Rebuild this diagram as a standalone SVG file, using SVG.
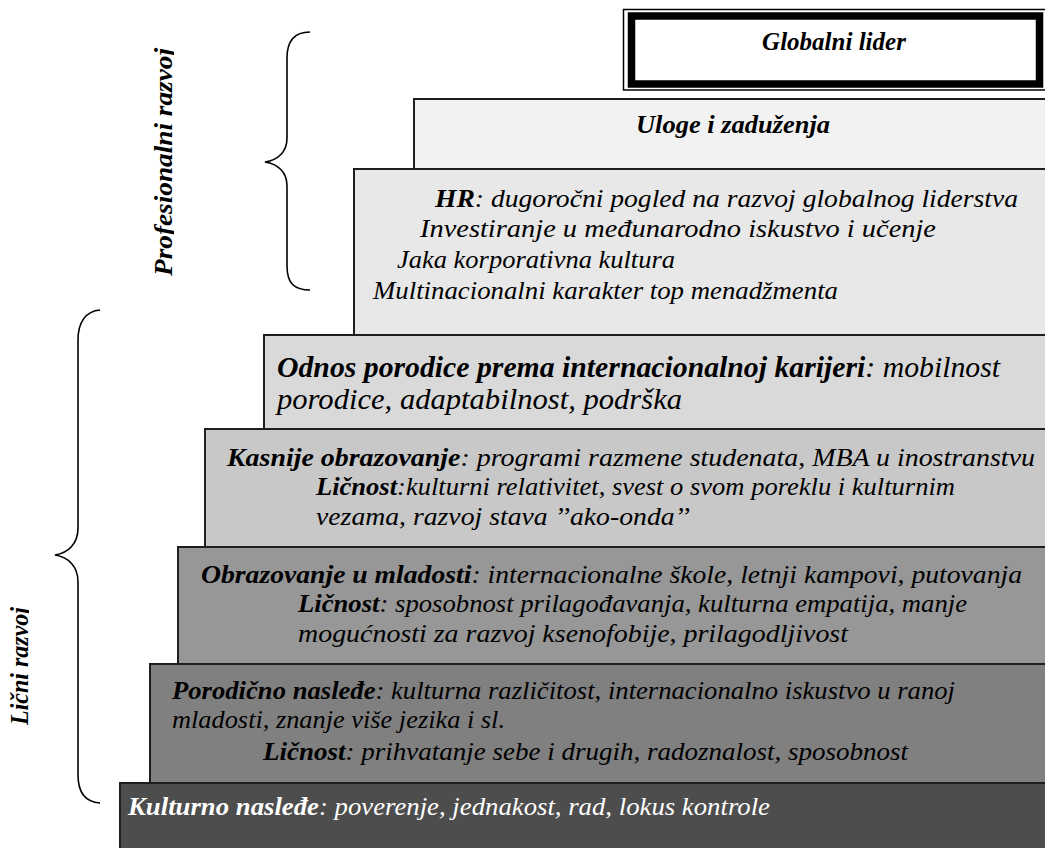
<svg xmlns="http://www.w3.org/2000/svg" width="1045" height="848" viewBox="0 0 1045 848">
<style>
.box{stroke:#1e1e1e;stroke-width:2}
.t{font-family:"Liberation Serif","Times New Roman",serif;font-style:italic;font-size:26px;fill:#000}
.b{font-weight:bold}
.brace{fill:none;stroke:#000;stroke-width:1.6}
</style>
<defs>
<clipPath id="clipP"><rect x="0" y="0" width="174" height="848"/></clipPath>
<clipPath id="clipL"><rect x="0" y="0" width="29" height="848"/></clipPath>
</defs>
<rect width="1045" height="848" fill="#fff"/>

<g id="step-kulturno">
<rect class="box" x="120" y="783" width="940" height="80" fill="#4d4d4d"/>
<text class="t" x="128" y="815" textLength="642" lengthAdjust="spacingAndGlyphs" style="fill:#fff"><tspan class="b">Kulturno nasleđe</tspan>: poverenje, jednakost, rad, lokus kontrole</text>
</g>

<g id="step-porodicno">
<rect class="box" x="150" y="664" width="910" height="119" fill="#808080"/>
<text class="t" x="172" y="699" textLength="783" lengthAdjust="spacingAndGlyphs"><tspan class="b">Porodično nasleđe</tspan>: kulturna različitost, internacionalno iskustvo u ranoj</text>
<text class="t" x="172" y="728" textLength="333" lengthAdjust="spacingAndGlyphs">mladosti, znanje više jezika i sl.</text>
<text class="t" x="263" y="760" textLength="645" lengthAdjust="spacingAndGlyphs"><tspan class="b">Ličnost</tspan>: prihvatanje sebe i drugih, radoznalost, sposobnost</text>
</g>

<g id="step-obrazovanje">
<rect class="box" x="178" y="547" width="880" height="117" fill="#979797"/>
<text class="t" x="201" y="583" textLength="821" lengthAdjust="spacingAndGlyphs"><tspan class="b">Obrazovanje u mladosti</tspan>: internacionalne škole, letnji kampovi, putovanja</text>
<text class="t" x="298" y="612" textLength="669" lengthAdjust="spacingAndGlyphs"><tspan class="b">Ličnost</tspan>: sposobnost prilagođavanja, kulturna empatija, manje</text>
<text class="t" x="298" y="642" textLength="550" lengthAdjust="spacingAndGlyphs">mogućnosti za razvoj ksenofobije, prilagodljivost</text>
</g>

<g id="step-kasnije">
<rect class="box" x="205" y="429" width="850" height="118" fill="#c8c8c8"/>
<text class="t" x="227" y="466" textLength="808" lengthAdjust="spacingAndGlyphs"><tspan class="b">Kasnije obrazovanje</tspan>: programi razmene studenata, MBA u inostranstvu</text>
<text class="t" x="316" y="495" textLength="639" lengthAdjust="spacingAndGlyphs"><tspan class="b">Ličnost</tspan>:kulturni relativitet, svest o svom poreklu i kulturnim</text>
<text class="t" x="316" y="525" textLength="374" lengthAdjust="spacingAndGlyphs">vezama, razvoj stava ’’ako-onda’’</text>
</g>

<g id="step-odnos">
<rect class="box" x="264" y="335" width="790" height="94" fill="#d9d9d9"/>
<text class="t" x="277" y="377" textLength="723" lengthAdjust="spacingAndGlyphs" style="font-size:29px"><tspan class="b">Odnos porodice prema internacionalnoj karijeri</tspan>: mobilnost</text>
<text class="t" x="277" y="409" textLength="405" lengthAdjust="spacingAndGlyphs" style="font-size:29px">porodice, adaptabilnost, podrška</text>
</g>

<g id="step-hr">
<rect class="box" x="354" y="169" width="700" height="166" fill="#e8e8e8"/>
<text class="t" x="435" y="207" textLength="583" lengthAdjust="spacingAndGlyphs"><tspan class="b">HR</tspan>: dugoročni pogled na razvoj globalnog liderstva</text>
<text class="t" x="420" y="237" textLength="516" lengthAdjust="spacingAndGlyphs">Investiranje u međunarodno iskustvo i učenje</text>
<text class="t" x="397" y="268" textLength="278" lengthAdjust="spacingAndGlyphs">Jaka korporativna kultura</text>
<text class="t" x="373" y="299" textLength="465" lengthAdjust="spacingAndGlyphs">Multinacionalni karakter top menadžmenta</text>
</g>

<g id="step-uloge">
<rect class="box" x="414" y="99" width="640" height="70" fill="#f2f2f2"/>
<text class="t b" x="636" y="133" textLength="194" lengthAdjust="spacingAndGlyphs">Uloge i zaduženja</text>
</g>

<g id="top-globalni-lider">
<rect x="623.5" y="9.5" width="430" height="80.5" fill="#fff" stroke="#000" stroke-width="1.5"/>
<rect x="631.5" y="16" width="408" height="68" fill="#fff" stroke="#000" stroke-width="7.5"/>
<text class="t b" x="834" y="50" text-anchor="middle" style="font-size:25px">Globalni lider</text>
</g>

<g id="connectors">
<path class="brace" d="M310,32 C295,32 287,40 287,58 L287,138 C287,152 278,160 265,162 C278,164 287,172 287,186 L287,266 C287,284 295,290 310,290"/>
<path class="brace" d="M100,310 C86,311 78,322 78,340 L78,528 C78,544 68,553 55,555 C68,557 78,566 78,582 L78,775 C78,793 86,802 100,803"/>
</g>

<g id="label-profesionalni" clip-path="url(#clipP)">
<text class="t b" transform="translate(172,276) rotate(-90)" x="0" y="0" textLength="228" lengthAdjust="spacingAndGlyphs" style="font-size:25px">Profesionalni razvoj</text>
</g>
<g id="label-licni" clip-path="url(#clipL)">
<text class="t b" transform="translate(28,725) rotate(-90)" x="0" y="0" textLength="118" lengthAdjust="spacingAndGlyphs" style="font-size:25px">Lični razvoj</text>
</g>
</svg>
